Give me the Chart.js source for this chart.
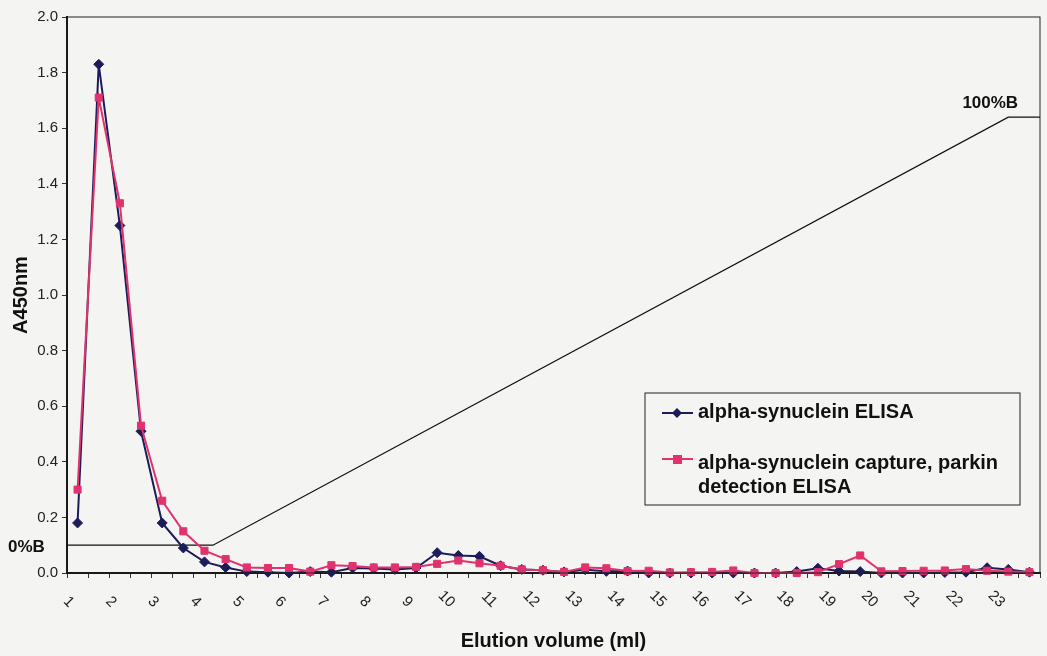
<!DOCTYPE html>
<html>
<head>
<meta charset="utf-8">
<script src="https://cdn.jsdelivr.net/npm/chart.js@4.4.0/dist/chart.umd.min.js"></script>
<style>
  html, body { margin: 0; padding: 0; background: #f4f4f3; }
  #wrap { width: 1047px; height: 656px; position: relative; }
</style>
</head>
<body>
<div id="wrap"><canvas id="elutionChart"></canvas></div>
<script>
// volumes (ml) des fractions
var volumes = [1, 1.5, 2, 2.5, 3, 3.5, 4, 4.5, 5, 5.5, 6, 6.5, 7, 7.5, 8, 8.5,
  9, 9.5, 10, 10.5, 11, 11.5, 12, 12.5, 13, 13.5, 14, 14.5, 15, 15.5, 16, 16.5,
  17, 17.5, 18, 18.5, 19, 19.5, 20, 20.5, 21, 21.5, 22, 22.5, 23, 23.5];

var synucleinElisa = [0.18, 1.83, 1.25, 0.51, 0.18, 0.09, 0.04, 0.02, 0.005, 0.003,
  0.0, 0.005, 0.003, 0.018, 0.016, 0.013, 0.018, 0.073, 0.063, 0.06, 0.026, 0.013,
  0.01, 0.004, 0.012, 0.006, 0.007, 0.0, 0.0, 0.0, 0.0, 0.0, 0.0, 0.0, 0.005, 0.017,
  0.007, 0.005, 0.0, 0.0, 0.0, 0.002, 0.003, 0.019, 0.013, 0.003];

var parkinElisa = [0.30, 1.71, 1.33, 0.53, 0.26, 0.15, 0.08, 0.05, 0.02, 0.018,
  0.018, 0.005, 0.028, 0.025, 0.02, 0.02, 0.022, 0.033, 0.045, 0.035, 0.026, 0.013,
  0.01, 0.004, 0.02, 0.017, 0.007, 0.008, 0.002, 0.003, 0.004, 0.009, 0.0, 0.0, 0.0,
  0.003, 0.032, 0.063, 0.006, 0.007, 0.008, 0.009, 0.014, 0.008, 0.005, 0.003];

var seriesNames = ['alpha-synuclein ELISA', 'alpha-synuclein capture, parkin detection ELISA'];

// gradient %B (ligne noire)
var gradientVolumes = [0.75, 4.2, 23.0, 23.75];
var gradientLevels = [0.1, 0.1, 1.64, 1.64];

var xTickLabels = ['1', '2', '3', '4', '5', '6', '7', '8', '9', '10', '11', '12',
  '13', '14', '15', '16', '17', '18', '19', '20', '21', '22', '23'];

var blue = '#1c1d58';
var pink = '#e0336e';
var font = '"Liberation Sans", Arial, sans-serif';

function toPoints(xs, ys) {
  return xs.map(function(x, i) { return { x: x, y: ys[i] }; });
}

// limites des fractions -> petites graduations
var boundaries = volumes.map(function(v) { return v - 0.25; });
boundaries.push(volumes[volumes.length - 1] + 0.25);

var extrasPlugin = {
  id: 'extras',
  afterDraw: function(chart) {
    var ctx = chart.ctx;
    var area = chart.chartArea;
    var xs = chart.scales.x;
    var ys = chart.scales.y;
    ctx.save();

    // cadre de la zone de tracé
    ctx.strokeStyle = '#222';
    ctx.lineWidth = 1;
    ctx.strokeRect(area.left, area.top, area.right - area.left, area.bottom - area.top);

    // étiquettes de l'axe x, tournées
    ctx.fillStyle = '#222';
    ctx.font = '15px ' + font;
    ctx.textAlign = 'right';
    ctx.textBaseline = 'middle';
    xTickLabels.forEach(function(lbl) {
      var px = xs.getPixelForValue(Number(lbl));
      ctx.save();
      ctx.translate(px - 6, area.bottom + 32);
      ctx.rotate(Math.PI / 4);
      ctx.fillText(lbl, 0, 0);
      ctx.restore();
    });

    // %B
    ctx.font = 'bold 17px ' + font;
    ctx.fillStyle = '#111';
    ctx.textAlign = 'left';
    ctx.fillText('0%B', 8, ys.getPixelForValue(gradientLevels[0]) + 2);
    ctx.textAlign = 'center';
    ctx.fillText('100%B', xs.getPixelForValue(gradientVolumes[2]) - 18,
      ys.getPixelForValue(gradientLevels[2]) - 14);

    // légende
    var lx = 645, ly = 393, lw = 375, lh = 112;
    ctx.strokeStyle = '#222';
    ctx.lineWidth = 1;
    ctx.strokeRect(lx, ly, lw, lh);
    ctx.font = 'bold 20px ' + font;
    ctx.textAlign = 'left';
    ctx.textBaseline = 'alphabetic';

    ctx.strokeStyle = blue;
    ctx.fillStyle = blue;
    ctx.lineWidth = 2;
    ctx.beginPath(); ctx.moveTo(662, 413); ctx.lineTo(693, 413); ctx.stroke();
    ctx.beginPath();
    ctx.moveTo(677, 408); ctx.lineTo(682, 413); ctx.lineTo(677, 418); ctx.lineTo(672, 413);
    ctx.closePath(); ctx.fill();
    ctx.fillStyle = '#111';
    ctx.fillText(seriesNames[0], 698, 418);

    ctx.strokeStyle = pink;
    ctx.fillStyle = pink;
    ctx.beginPath(); ctx.moveTo(662, 459); ctx.lineTo(693, 459); ctx.stroke();
    ctx.fillRect(673, 455, 9, 9);
    ctx.fillStyle = '#111';
    ctx.fillText('alpha-synuclein capture, parkin', 698, 469);
    ctx.fillText('detection ELISA', 698, 493);

    ctx.restore();
  }
};

var ctx = document.getElementById('elutionChart').getContext('2d');
var elutionChart = new Chart(ctx, {
  type: 'line',
  data: {
    datasets: [{
      label: seriesNames[0],
      data: toPoints(volumes, synucleinElisa),
      borderColor: blue,
      backgroundColor: blue,
      borderWidth: 2,
      pointStyle: 'rectRot',
      pointRadius: 5,
      pointBorderWidth: 1,
      tension: 0,
      clip: false,
      order: 1
    }, {
      label: seriesNames[1],
      data: toPoints(volumes, parkinElisa),
      borderColor: pink,
      backgroundColor: pink,
      borderWidth: 2,
      pointStyle: 'rect',
      pointRadius: 5,
      pointBorderWidth: 1,
      tension: 0,
      clip: false,
      order: 0
    }, {
      label: '%B',
      data: toPoints(gradientVolumes, gradientLevels),
      borderColor: '#111',
      borderWidth: 1.3,
      pointRadius: 0,
      tension: 0,
      order: 2
    }]
  },
  options: {
    responsive: true,
    maintainAspectRatio: false,
    animation: false,
    layout: { padding: { top: 17, right: 7, left: 0, bottom: 0 } },
    plugins: {
      legend: { display: false },
      tooltip: { enabled: false }
    },
    scales: {
      x: {
        type: 'linear',
        min: 0.75,
        max: 23.75,
        afterBuildTicks: function(scale) {
          scale.ticks = boundaries.map(function(v) { return { value: v }; });
        },
        afterFit: function(scale) { scale.height = 83; },
        ticks: { display: false },
        grid: {
          drawOnChartArea: false,
          drawTicks: true,
          tickLength: 5,
          color: '#333'
        },
        border: { display: true, color: '#111', width: 2 },
        title: {
          display: true,
          text: 'Elution volume (ml)',
          color: '#111',
          font: { family: font, size: 20, weight: 'bold' },
          padding: { top: 0, bottom: 3 }
        }
      },
      y: {
        min: 0,
        max: 2,
        afterFit: function(scale) { scale.width = 67; },
        ticks: {
          stepSize: 0.2,
          padding: 4,
          color: '#222',
          font: { family: font, size: 15 },
          callback: function(v) { return v.toFixed(1); }
        },
        grid: {
          drawOnChartArea: false,
          drawTicks: true,
          tickLength: 5,
          color: '#333'
        },
        border: { display: true, color: '#111', width: 2 },
        title: {
          display: true,
          text: 'A450nm',
          color: '#111',
          font: { family: font, size: 20, weight: 'bold' },
          padding: { top: 9, bottom: 0 }
        }
      }
    }
  },
  plugins: [extrasPlugin]
});
</script>
</body>
</html>
